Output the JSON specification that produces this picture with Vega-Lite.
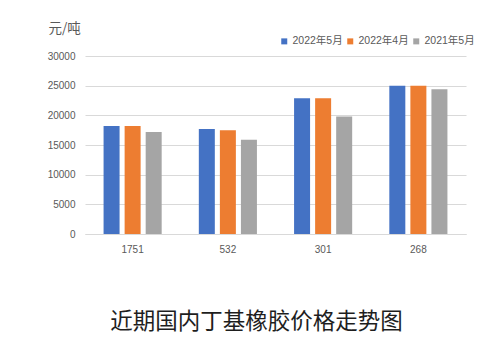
{
  "$schema": "https://vega.github.io/schema/vega-lite/v6.json",
  "autosize": "none",
  "width": 381,
  "height": 178,
  "padding": {"left": 85, "top": 56, "right": 31, "bottom": 126},
  "background": "white",
  "config": {
    "view": {"stroke": null},
    "font": "Liberation Sans, Noto Sans CJK SC, sans-serif"
  },
  "title": {
    "text": "近期国内丁基橡胶价格走势图",
    "orient": "bottom",
    "anchor": "middle",
    "font": "Noto Sans CJK SC",
    "fontSize": 22.5,
    "fontWeight": "normal",
    "color": "#1e1e1e",
    "offset": 57,
    "dx": -19
  },
  "data": {
    "values": [
      {"grade": "1751", "period": "2022年5月", "price": 18200},
      {"grade": "1751", "period": "2022年4月", "price": 18200},
      {"grade": "1751", "period": "2021年5月", "price": 17200},
      {"grade": "532", "period": "2022年5月", "price": 17700},
      {"grade": "532", "period": "2022年4月", "price": 17500},
      {"grade": "532", "period": "2021年5月", "price": 15900},
      {"grade": "301", "period": "2022年5月", "price": 22900},
      {"grade": "301", "period": "2022年4月", "price": 22900},
      {"grade": "301", "period": "2021年5月", "price": 19800},
      {"grade": "268", "period": "2022年5月", "price": 25000},
      {"grade": "268", "period": "2022年4月", "price": 25000},
      {"grade": "268", "period": "2021年5月", "price": 24400}
    ]
  },
  "mark": {"type": "bar"},
  "encoding": {
    "x": {
      "field": "grade",
      "type": "nominal",
      "sort": null,
      "scale": {"paddingInner": 0.39, "paddingOuter": 0.195},
      "axis": {
        "title": null,
        "labelAngle": 0,
        "labelFontSize": 10,
        "labelColor": "#595959",
        "labelPadding": 10,
        "ticks": false,
        "domainColor": "#d9d9d9",
        "domainWidth": 1
      }
    },
    "xOffset": {
      "field": "period",
      "type": "nominal",
      "sort": ["2022年5月", "2022年4月", "2021年5月"],
      "scale": {"paddingInner": 0.24, "paddingOuter": 0}
    },
    "y": {
      "field": "price",
      "type": "quantitative",
      "scale": {"domain": [0, 30000], "nice": false},
      "axis": {
        "values": [0, 5000, 10000, 15000, 20000, 25000, 30000],
        "title": "元/吨",
        "titleAngle": 0,
        "titleAlign": "left",
        "titleBaseline": "middle",
        "titleX": -37,
        "titleY": -28,
        "titleFontSize": 13.5,
        "titleFontWeight": "normal",
        "titleColor": "#595959",
        "titleFont": "Noto Sans CJK SC",
        "labelFontSize": 10,
        "labelColor": "#595959",
        "labelPadding": 10,
        "ticks": false,
        "domain": false,
        "gridColor": "#d9d9d9",
        "gridWidth": 1,
        "format": "d"
      }
    },
    "color": {
      "field": "period",
      "type": "nominal",
      "sort": ["2022年5月", "2022年4月", "2021年5月"],
      "scale": {"range": ["#4472C4", "#ED7D31", "#A5A5A5"]},
      "legend": {
        "title": null,
        "orient": "none",
        "direction": "horizontal",
        "legendX": 194,
        "legendY": -20,
        "symbolType": "square",
        "symbolSize": 36,
        "symbolStrokeWidth": 0,
        "labelFontSize": 10.5,
        "labelColor": "#595959",
        "labelOffset": 3,
        "columnPadding": 2
      }
    }
  }
}
